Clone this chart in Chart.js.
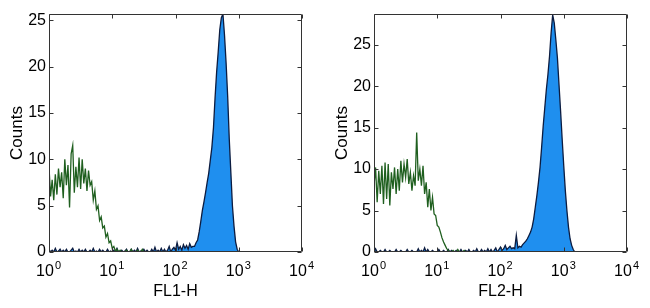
<!DOCTYPE html>
<html><head><meta charset="utf-8">
<script src="https://cdn.jsdelivr.net/npm/chart.js@4/dist/chart.umd.min.js"></script>
<style>
html,body{margin:0;padding:0;background:#fff;}
#wrap{display:flex;width:650px;height:308px;}
.cell{position:relative;width:325px;height:308px;}
</style></head><body>
<div id="wrap"><div class="cell"><canvas id="c1"></canvas></div><div class="cell"><canvas id="c2"></canvas></div></div>
<script>
// bins are 1/40 of a decade on a log10 axis from 10^0 to 10^4
const binsPerDecade = 40;
const xTickValues = [0, 1, 2, 3, 4];
const xTickBase = ['10', '10', '10', '10', '10'];
const xTickExponents = ['0', '1', '2', '3', '4'];
const yTickValues = [0, 5, 10, 15, 20, 25];
const yMax1 = 25.7;
const yMax2 = 28.7;
const xLabel1 = 'FL1-H';
const xLabel2 = 'FL2-H';
const yLabel = 'Counts';

// Panel 1 (FL1-H)
const green1 = [
  9.2, 6.0, 7.8, 5.6, 8.4, 6.2, 9.0, 7.0, 8.6, 5.8,
  10.0, 7.2, 9.4, 4.8, 10.6, 11.5, 6.4, 9.2, 7.0, 10.2,
  6.8, 10.0, 7.4, 9.0, 6.6, 8.8, 7.2, 7.6, 5.6, 6.6,
  4.6, 5.0, 3.4, 3.8, 2.6, 2.8, 1.6, 2.0, 1.0, 1.2,
  0.4, 0.6, 0.1, 0.3, 0, 0.2, 0, 0, 0, 0.2,
  0, 0, 0.3, 0, 0, 0, 0.2, 0, 0, 0.3,
  0, 0, 0
];
const blue1 = [
  0.3, 0, 0.2, 0, 0.4, 0, 0.1, 0.3, 0, 0.2,
  0, 0.3, 0, 0, 0.2, 0.4, 0, 0.1, 0, 0.3,
  0, 0.2, 0, 0.3, 0, 0, 0.2, 0, 0.4, 0,
  0.1, 0, 0.3, 0, 0.2, 0, 0, 0.3, 0, 0.1,
  0, 0.2, 0, 0.4, 0, 0, 0.2, 0, 0.1, 0.3,
  0, 0, 0.3, 0, 0.2, 0, 0.4, 0, 0.1, 0,
  0.3, 0, 0.2, 0, 0, 0.3, 0, 0.5, 0, 0.2,
  0, 0.4, 0, 0.3, 0, 0.2, 0.6, 0, 0.3, 0.5,
  0.2, 1.0, 0.3, 0.6, 0.2, 0.8, 0.4, 0.7, 0.3, 0.9,
  0.5, 0.6, 0.6, 1.0, 1.3, 2.2, 3.3, 4.5, 5.4, 6.4,
  7.5, 8.5, 9.9, 11.3, 13.4, 16.6, 19.4, 21.6, 24.0, 25.3,
  25.7, 23.4, 20.4, 16.8, 12.2, 8.6, 5.0, 2.8, 1.1, 0.3,
  0, 0, 0, 0, 0, 0, 0, 0
];

// Panel 2 (FL2-H)
const green2 = [
  8.0, 10.2, 6.0, 9.8, 7.0, 10.4, 5.8, 10.8, 6.4, 10.6,
  5.6, 9.6, 7.6, 10.2, 7.0, 10.0, 7.4, 11.0, 8.4, 10.6,
  9.0, 11.2, 8.2, 9.6, 7.4, 9.2, 8.0, 14.4, 8.6, 10.0,
  8.0, 10.4, 7.0, 8.4, 5.4, 7.6, 5.0, 6.6, 4.6, 4.4,
  3.2, 3.0, 2.4, 1.7, 1.2, 0.8, 0.4, 0.2, 0, 0,
  0.2, 0, 0, 0.3, 0, 0, 0, 0.2, 0, 0
];
const blue2 = [
  0, 0.4, 0, 0, 0.2, 0, 0, 0.3, 0, 0,
  0.2, 0, 0, 0, 0.3, 0, 0, 0.2, 0, 0,
  0, 0.3, 0, 0, 0.2, 0, 0, 0, 0.4, 0,
  0.2, 0, 0.5, 0, 0.3, 0, 0, 0.2, 0, 0,
  0, 0.3, 0, 0, 0.2, 0, 0, 0.3, 0, 0.2,
  0, 0, 0.2, 0, 0, 0.3, 0, 0, 0.2, 0,
  0.3, 0, 0, 0.2, 0, 0.4, 0, 0, 0.3, 0,
  0.2, 0, 0.4, 0, 0.3, 0, 0.2, 0.5, 0, 0.3,
  0.6, 0.2, 0.4, 0.8, 0.3, 0.5, 0.7, 0.4, 0.5, 0.4,
  2.0, 0.5, 0.7, 0.6, 0.9, 1.1, 1.3, 1.6, 2.0, 2.4,
  3.0, 4.0, 5.4, 6.8, 8.4, 10.2, 12.6, 15.2, 17.4, 19.6,
  21.4, 23.6, 26.4, 28.6, 27.6, 25.6, 23.4, 20.2, 17.0, 13.6,
  10.4, 7.4, 5.0, 3.0, 1.6, 0.8, 0.3, 0, 0, 0
];

const FONT = '"Liberation Sans", Arial, Helvetica, sans-serif';
const TEXT = '#000';

function toPoints(arr) {
  return arr.map((v, i) => ({ x: i / binsPerDecade, y: v }));
}

const framePlugin = {
  id: 'frame',
  afterDatasetsDraw(chart) {
    const { ctx, chartArea: a, scales: { x, y } } = chart;
    const L = Math.round(a.left) + 0.5, R = Math.round(a.right) - 0.5;
    const T = Math.round(a.top) + 0.5, B = Math.round(a.bottom) - 0.5;
    ctx.save();
    ctx.strokeStyle = '#333';
    ctx.lineWidth = 1;
    ctx.beginPath();
    ctx.rect(L, T, R - L, B - T);
    const tl = 4;
    x.ticks.forEach(t => {
      const px = Math.round(x.getPixelForValue(t.value)) + 0.5;
      ctx.moveTo(px, B); ctx.lineTo(px, B - tl);
      ctx.moveTo(px, T); ctx.lineTo(px, T + tl);
    });
    y.ticks.forEach(t => {
      const py = Math.round(y.getPixelForValue(t.value)) + 0.5;
      ctx.moveTo(L, py); ctx.lineTo(L + tl, py);
      ctx.moveTo(R, py); ctx.lineTo(R - tl, py);
    });
    ctx.stroke();
    ctx.restore();
  },
  afterDraw(chart) {
    const { ctx, chartArea: a, scales: { x } } = chart;
    ctx.save();
    ctx.fillStyle = TEXT;
    ctx.font = '11px ' + FONT;
    ctx.textAlign = 'left';
    ctx.textBaseline = 'middle';
    x.ticks.forEach((t, i) => {
      const px = x.getPixelForValue(t.value);
      ctx.fillText(xTickExponents[i], px + 6, a.bottom + 14);
    });
    ctx.restore();
  }
};

function makeChart(id, green, blue, yMax, xLabel) {
  return new Chart(document.getElementById(id), {
    type: 'line',
    data: {
      datasets: [
        { data: toPoints(blue), borderColor: '#0c1c40', backgroundColor: '#1f8fef',
          borderWidth: 1.3, fill: 'origin', pointRadius: 0, tension: 0, order: 2 },
        { data: toPoints(green), borderColor: '#1f5f1f', borderWidth: 1.3,
          fill: false, pointRadius: 0, tension: 0, order: 1 }
      ]
    },
    options: {
      responsive: true,
      maintainAspectRatio: false,
      animation: false,
      events: [],
      layout: { padding: { left: 0, right: 23, top: 14, bottom: 0 } },
      plugins: { legend: { display: false }, tooltip: { enabled: false } },
      scales: {
        x: {
          type: 'linear', min: 0, max: 4,
          grid: { display: false, drawTicks: false },
          border: { display: false },
          afterBuildTicks: s => { s.ticks = xTickValues.map(v => ({ value: v })); },
          afterFit: s => { s.height = 56; },
          ticks: {
            padding: 10, labelOffset: -4, maxRotation: 0, autoSkip: false,
            color: TEXT, font: { family: FONT, size: 16 },
            callback: (v, i) => xTickBase[i]
          },
          title: { display: true, text: xLabel, color: TEXT,
                   font: { family: FONT, size: 16 }, padding: { top: 0, bottom: 7 } }
        },
        y: {
          type: 'linear', min: 0, max: yMax,
          grid: { display: false, drawTicks: false },
          border: { display: false },
          afterBuildTicks: s => { s.ticks = yTickValues.filter(v => v <= yMax).map(v => ({ value: v })); },
          afterFit: s => { s.width = 49; },
          ticks: { padding: 3, color: TEXT, font: { family: FONT, size: 16 } },
          title: { display: true, text: yLabel, color: TEXT,
                   font: { family: FONT, size: 17 }, padding: { top: 7, bottom: 0 } }
        }
      }
    },
    plugins: [framePlugin]
  });
}

makeChart('c1', green1, blue1, yMax1, xLabel1);
makeChart('c2', green2, blue2, yMax2, xLabel2);
</script>
</body></html>
